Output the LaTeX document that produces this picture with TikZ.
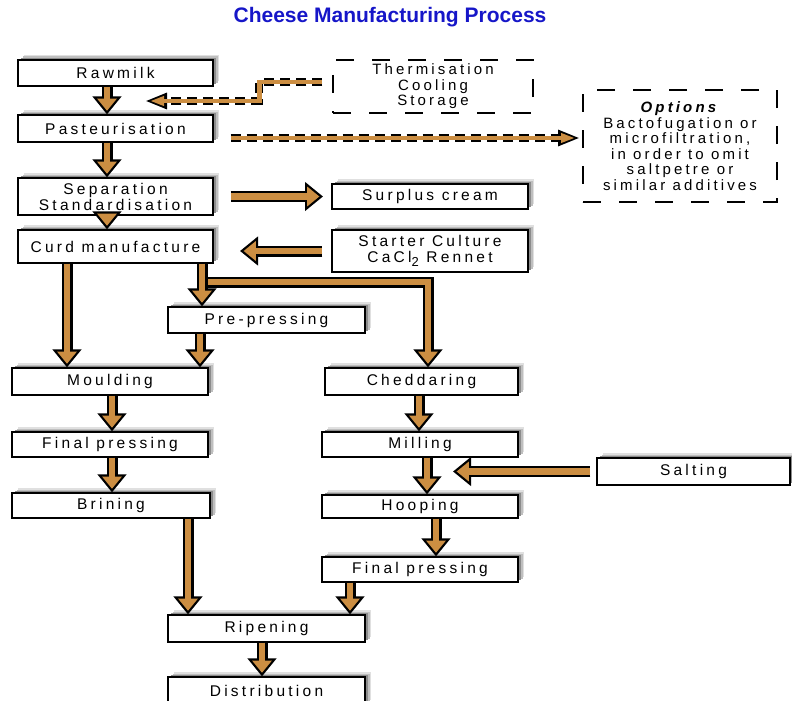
\documentclass[tikz,border=0pt]{standalone}
\usepackage{fontspec}
\setmainfont{Liberation Sans}
\newfontfamily\stagefont[LetterSpace=21]{Liberation Sans}
\usetikzlibrary{arrows.meta,shadows}

\definecolor{brew}{RGB}{204,142,66}
\definecolor{headblue}{RGB}{22,22,200}

\tikzset{
  stage/.style={draw, fill=white, line width=1.2pt, inner sep=1pt, align=center,
    font=\stagefont\fontsize{15.5}{16}\selectfont,
    general shadow={fill=black!12, shadow xshift=6pt, shadow yshift=5pt},
    general shadow={fill=black!25, shadow xshift=4.5pt, shadow yshift=3.5pt},
    general shadow={fill=black!45, shadow xshift=3pt, shadow yshift=2pt}},
  extra/.style={draw, line width=1.3pt, dash pattern=on 18pt off 18pt, align=center,
    font=\stagefont\fontsize{15}{15.5}\selectfont},
  pipeedge/.style={line width=11pt, draw=black, line join=miter, -{Triangle[width=28pt,length=18pt]}},
  pipecore/.style={line width=6.6pt, draw=brew, line join=miter, shorten >=3.6pt, -{Triangle[width=19pt,length=12.2pt]}},
  optedge/.style={line width=8pt, draw=black, line join=miter, dash pattern=on 10pt off 6pt, -{Triangle[width=15pt,length=22pt]}},
  optcore/.style={line width=4.5pt, draw=brew, line join=miter, shorten >=5pt, -{Triangle[width=9pt,length=14pt]}},
}
% a block arrow: black edge, brown core
\newcommand{\pipe}[1]{\draw[pipeedge] #1; \draw[pipecore] #1;}
\newcommand{\optpipe}[1]{\draw[optedge] #1; \draw[optcore] #1;}

\begin{document}
\begin{tikzpicture}[x=1pt,y=-1pt]
\useasboundingbox (0,0) rectangle (792,701);

\node[font=\bfseries\fontsize{21}{24}\selectfont, text=headblue] (head) at (390,17) {Cheese Manufacturing Process};

% main line
\node[stage, minimum width=195pt, minimum height=26pt] (raw) at (115.5,73) {Rawmilk};
\node[stage, minimum width=195pt, minimum height=27pt] (past) at (115.5,128.5) {Pasteurisation};
\node[stage, minimum width=195pt, minimum height=37pt] (sep) at (115.5,196.5) {Separation\\Standardisation};
\node[stage, minimum width=195pt, minimum height=33pt] (curd) at (115.5,246.5) {Curd manufacture};

% side inputs and outputs
\node[extra, minimum width=200pt, minimum height=53pt] (therm) at (433,86.5) {Thermisation\\Cooling\\Storage};
\node[extra, minimum width=194pt, minimum height=112pt] (opts) at (680,146)
  {\textbf{\textit{Options}}\\Bactofugation or\\microfiltration,\\in order to omit\\saltpetre or\\similar additives};
\node[stage, minimum width=196pt, minimum height=25pt] (cream) at (430,196.5) {Surplus cream};
\node[stage, minimum width=196pt, minimum height=42pt] (starter) at (430,251)
  {Starter Culture\\CaCl\raisebox{-4pt}{\fontsize{13}{13}\selectfont 2} Rennet};

% left branch
\node[stage, minimum width=197pt, minimum height=26pt] (prepress) at (266.5,320) {Pre-pressing};
\node[stage, minimum width=196pt, minimum height=27pt] (mould) at (110,381.5) {Moulding};
\node[stage, minimum width=196pt, minimum height=25pt] (finalL) at (110,444.5) {Final pressing};
\node[stage, minimum width=198pt, minimum height=25pt] (brine) at (111,505.5) {Brining};

% right branch
\node[stage, minimum width=193pt, minimum height=27pt] (chedd) at (421.5,381.5) {Cheddaring};
\node[stage, minimum width=196pt, minimum height=25pt] (mill) at (420,444.5) {Milling};
\node[stage, minimum width=193pt, minimum height=27pt] (salt) at (693.5,471.5) {Salting};
\node[stage, minimum width=196pt, minimum height=23pt] (hoop) at (420,506.5) {Hooping};
\node[stage, minimum width=196pt, minimum height=25pt] (finalR) at (420,569.5) {Final pressing};

% end of line
\node[stage, minimum width=197pt, minimum height=27pt] (ripen) at (266.5,628.5) {Ripening};
\node[stage, minimum width=197pt, minimum height=28pt] (distrib) at (266.5,691) {Distribution};

% free arrow ends
\coordinate (thermtip) at (145,101);
\coordinate (opttip) at (580,138);
\coordinate (creamtip) at (323,196.5);
\coordinate (startertip) at (240,251);
\coordinate (split) at (202,282);
\coordinate (salttip) at (453,471.5);

% dashed feeds
\optpipe{([xshift=-10pt,yshift=4.5pt]therm.west) -- ++(-63,0) |- (thermtip)}
\optpipe{([xshift=17pt,yshift=-9.5pt]past.east) -- (opttip)}

\pipe{([xshift=-8.5pt]raw.south) -- ([xshift=-8.5pt]past.north)}
\pipe{([xshift=-8.5pt]past.south) -- ([xshift=-8.5pt]sep.north)}
\pipe{([xshift=-8.5pt]sep.south) -- ([xshift=-8.5pt]curd.north)}
\pipe{([xshift=17pt]sep.east) -- (creamtip)}
\pipe{([xshift=-9pt]starter.west) -- (startertip)}

\pipe{(split) -| ([xshift=6.5pt]chedd.north)}
\pipe{([xshift=-48.5pt]curd.south) -- ([xshift=-43pt]mould.north)}
\pipe{([xshift=86.5pt]curd.south) -- ([xshift=-64.5pt]prepress.north)}
\pipe{([xshift=-66.5pt]prepress.south) -- ([xshift=90pt]mould.north)}
\pipe{([xshift=2pt]mould.south) -- ([xshift=2pt]finalL.north)}
\pipe{([xshift=2pt]finalL.south) -- ([xshift=1pt]brine.north)}
\pipe{([xshift=77pt]brine.south) -- ([xshift=-78.5pt]ripen.north)}

\pipe{([xshift=-2.5pt]chedd.south) -- ([xshift=-1pt]mill.north)}
\pipe{([xshift=7pt]mill.south) -- ([xshift=7pt]hoop.north)}
\pipe{([xshift=-6pt]salt.west) -- (salttip)}
\pipe{([xshift=16pt]hoop.south) -- ([xshift=16pt]finalR.north)}
\pipe{([xshift=-70pt]finalR.south) -- ([xshift=83.5pt]ripen.north)}
\pipe{([xshift=-4.5pt]ripen.south) -- ([xshift=-4.5pt]distrib.north)}
\end{tikzpicture}
\end{document}
